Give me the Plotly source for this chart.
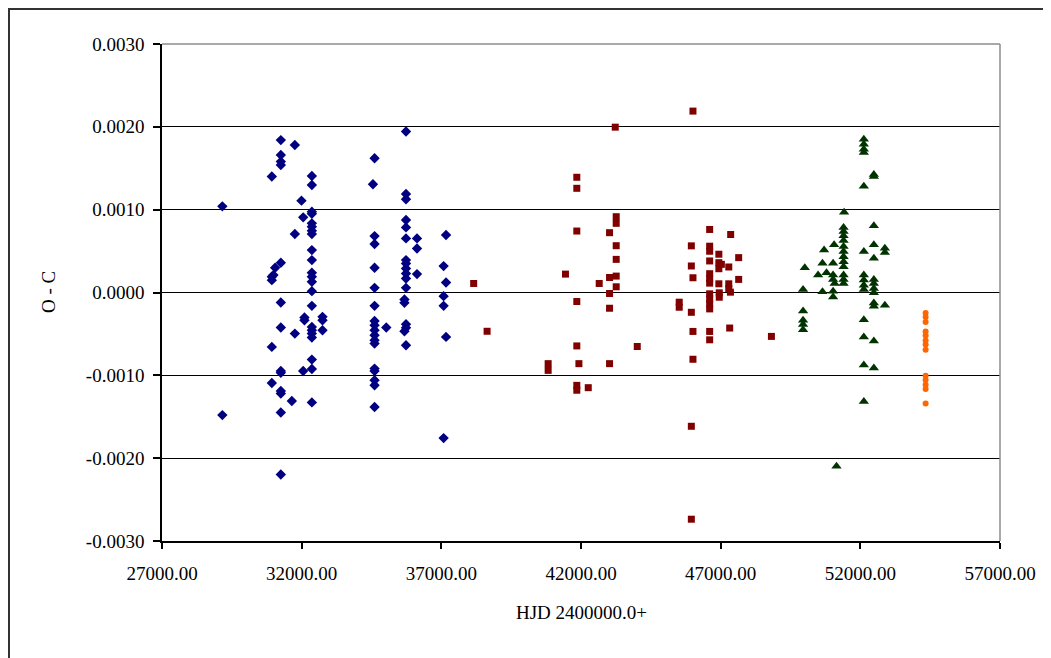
import plotly.graph_objects as go

# ---- data (O - C in units of 0.001 d, HJD - 2400000) ----
blue_hjd = [29160, 29160,
            31254, 31254, 31254, 31254, 31254, 31254, 31254, 31254, 31254, 31254, 31254, 31254, 31254,
            31756, 31756, 31756,
            30932, 30932, 30932, 30932, 30932, 30990, 31050, 31993, 32054, 32054, 32100, 32100,
            32746, 32746, 32746, 31648,
            32365, 32365, 32365, 32365, 32365, 32365, 32365, 32365, 32365, 32365, 32365,
            32365, 32365, 32365, 32365, 32365, 32365, 32365, 32365, 32365, 32365, 32365,
            35735, 35735, 35735, 35735, 35735, 35735, 35735, 35735, 35735, 35735, 35735,
            35735, 35680, 35680, 35735, 35735, 35680, 35735,
            34610, 34610, 34610, 34610, 34610, 34610, 34610, 34610, 34610, 34610, 34610,
            34610, 34610, 34610, 34610, 34610, 34610,
            34552, 36129, 36129, 36129, 37168, 37168, 37168, 37082, 37082, 37082, 37082, 35029]
blue_oc = [1.04, -1.48,
           1.84, 1.66, 1.58, 1.54, 0.359, -0.121, -0.423, -0.948, -0.97, -1.19, -1.22, -1.448, -2.198,
           1.78, 0.706, -0.496,
           1.40, 0.19, 0.149, -0.657, -1.093, 0.21, 0.298, 1.109, 0.907, -0.948, -0.302, -0.335,
           -0.294, -0.335, -0.456, -1.31,
           1.407, 1.298, 0.976, 0.95, 0.835, 0.794, 0.746, 0.706, 0.512, 0.391, 0.238,
           0.19, 0.129, 0.016, -0.161, -0.415, -0.456, -0.496, -0.544, -0.81, -0.923, -1.327,
           1.944, 1.19, 1.125, 0.875, 0.786, 0.653, 0.391, 0.351, 0.29, 0.23, 0.169,
           0.056, -0.085, -0.125, -0.383, -0.427, -0.468, -0.637,
           1.621, 0.681, 0.585, 0.298, 0.056, -0.161, -0.343, -0.395, -0.456, -0.516, -0.577,
           -0.617, -0.919, -0.948, -1.06, -1.12, -1.383,
           1.306, 0.653, 0.532, 0.222, 0.694, 0.121, -0.536, 0.319, -0.044, -0.161, -1.758, -0.423]

red_hjd = [38158, 38638, 43226,
           41850, 41850, 41850, 41850, 41850, 41850, 41850, 41925,
           43260, 43260, 43260, 43260, 43260, 43260,
           43022, 43022, 43022, 43022, 43022,
           41444, 42652, 40824, 40824, 42260,
           46008, 46008, 46008, 46008,
           45950, 45950, 45950, 45950, 45950,
           46606, 46606, 46606, 46606, 46606, 46606, 46606, 46606, 46606, 46606, 46606, 46606, 46606,
           47358, 47645, 47645, 46935, 46935, 46935, 46935, 47025,
           47290, 47290, 47290, 47350, 46950, 46950, 45516, 45516, 47323, 48817, 44014]
red_oc = [0.109, -0.468, 1.996,
          1.391, 1.258, 0.742, -0.109, -0.645, -1.121, -1.18, -0.859,
          0.915, 0.835, 0.565, 0.40, 0.198, 0.069,
          0.722, 0.181, -0.012, -0.19, -0.859,
          0.222, 0.109, -0.859, -0.94, -1.149,
          2.19, 0.178, -0.47, -0.806,
          0.563, 0.32, -0.239, -1.615, -2.737,
          0.761, 0.559, 0.498, 0.381, 0.227, 0.166, 0.113, -0.016, -0.077, -0.138, -0.198, -0.47, -0.571,
          0.70, 0.421, 0.158, 0.462, 0.36, 0.287, 0.105, 0.34,
          0.308, 0.105, 0.045, 0.004, -0.004, -0.057, -0.117, -0.178, -0.429, -0.53, -0.652]

green_hjd = [52125, 52125, 52125, 52125, 52125, 52125, 52125, 52125, 52125, 52125, 52125, 52125, 52125, 52125,
             52484, 52484, 52484, 52484, 52484, 52484, 52484, 52484, 52484, 52484, 52484, 52484, 52484,
             51419,
             51400, 51400, 51400, 51400, 51400, 51400, 51400, 51400, 51400, 51400, 51400, 51400,
             51061, 50703, 52878, 52878, 52878, 50011, 50645, 50645,
             51025, 51025, 51025, 51080, 51025, 51025, 50488, 50789,
             49950, 49950, 49950, 49950, 49950, 51147]
green_oc = [1.85, 1.79, 1.73, 1.69, 1.283, 0.494, 0.21, 0.15, 0.089, 0.036, -0.328, -0.538, -0.874, -1.316,
            1.425, 1.40, 0.806, 0.575, 0.413, 0.158, 0.109, 0.049, -0.004, -0.126, -0.166, -0.587, -0.91,
            0.968,
            0.785, 0.737, 0.684, 0.628, 0.555, 0.494, 0.433, 0.372, 0.312, 0.21, 0.158, 0.109,
            0.575, 0.514, 0.534, 0.482, -0.154, 0.30, 0.352, 0.008,
            0.352, 0.21, 0.158, 0.109, 0.016, -0.053, 0.21, 0.239,
            0.036, -0.223, -0.336, -0.385, -0.45, -2.097]

orange_hjd = [54337] * 13
orange_oc = [-0.247, -0.296, -0.356, -0.47, -0.518, -0.579, -0.628, -0.692,
             -1.004, -1.057, -1.113, -1.166, -1.34]

x_ticks = [27000, 32000, 37000, 42000, 47000, 52000, 57000]
y_ticks = [-0.003, -0.002, -0.001, 0.0, 0.001, 0.002, 0.003]
y_tick_text = ["-0.0030", "-0.0020", "-0.0010", "0.0000", "0.0010", "0.0020", "0.0030"]

FONT = "Liberation Serif"

series = [
    (blue_hjd, blue_oc, "#000080", "diamond", 8),
    (red_hjd, red_oc, "#800000", "square", 7),
    (green_hjd, green_oc, "#003300", "triangle-up", 9),
    (orange_hjd, orange_oc, "#FF6600", "circle", 6),
]

fig = go.Figure()
for xs, ys, col, sym, sz in series:
    fig.add_trace(go.Scatter(
        x=xs, y=[v * 0.001 for v in ys], mode="markers",
        marker=dict(symbol=sym, size=sz, color=col, line=dict(width=0)),
        showlegend=False, cliponaxis=False))

# page body has an 8px margin: work in figure pixels (window - 8)
OFF = 8
W, H = 1051 - OFF, 658 - OFF
L, R, T, B = 162 - OFF, 1000 - OFF, 44 - OFF, 541 - OFF
fig.update_layout(
    width=W, height=H,
    margin=dict(l=L, r=W - R, t=T, b=H - B, pad=0),
    paper_bgcolor="white", plot_bgcolor="white",
    font=dict(family=FONT, size=19, color="black"),
    xaxis=dict(range=[27000, 57000], tickvals=x_ticks,
               ticktext=[f"{v:.2f}" for v in x_ticks],
               showgrid=False, zeroline=False, showline=True, linecolor="black", linewidth=1.5,
               ticks="outside", ticklen=6, tickcolor="black", tickwidth=1.5,
               ticklabelstandoff=8,
               tickfont=dict(family=FONT, size=19)),
    yaxis=dict(range=[-0.003, 0.003], tickvals=y_ticks, ticktext=y_tick_text,
               showgrid=True, gridcolor="black", gridwidth=1.2, zeroline=False,
               showline=True, linecolor="black", linewidth=1.5,
               ticks="outside", ticklen=7, tickcolor="black", tickwidth=1.5,
               ticklabelstandoff=5,
               tickfont=dict(family=FONT, size=19)),
)

pw, ph = R - L, B - T
def px2paper_x(p): return (p - OFF - L) / pw   # p in window pixels
def px2paper_y(p): return (B - (p - OFF)) / ph

# plot area border (top and right, gray)
fig.add_shape(type="line", xref="paper", yref="paper", x0=0, x1=1, y0=1, y1=1,
              line=dict(color="#8c8c8c", width=1.5), layer="above")
fig.add_shape(type="line", xref="paper", yref="paper", x0=1, x1=1, y0=0, y1=1,
              line=dict(color="#8c8c8c", width=1.5), layer="above")
# outer chart frame
fig.add_shape(type="rect", xref="paper", yref="paper",
              x0=px2paper_x(9), x1=px2paper_x(1100), y0=px2paper_y(700), y1=px2paper_y(9),
              line=dict(color="#333333", width=2), fillcolor="rgba(0,0,0,0)", layer="above")

fig.add_annotation(text="HJD 2400000.0+", xref="paper", yref="paper",
                   x=0.5, y=px2paper_y(612), xanchor="center", yanchor="middle",
                   showarrow=False, font=dict(family=FONT, size=19, color="black"))
fig.add_annotation(text="O - C", xref="paper", yref="paper",
                   x=px2paper_x(48), y=px2paper_y(292), xanchor="center", yanchor="middle",
                   textangle=-90, showarrow=False, font=dict(family=FONT, size=19, color="black"))

fig.write_html("out.html")
